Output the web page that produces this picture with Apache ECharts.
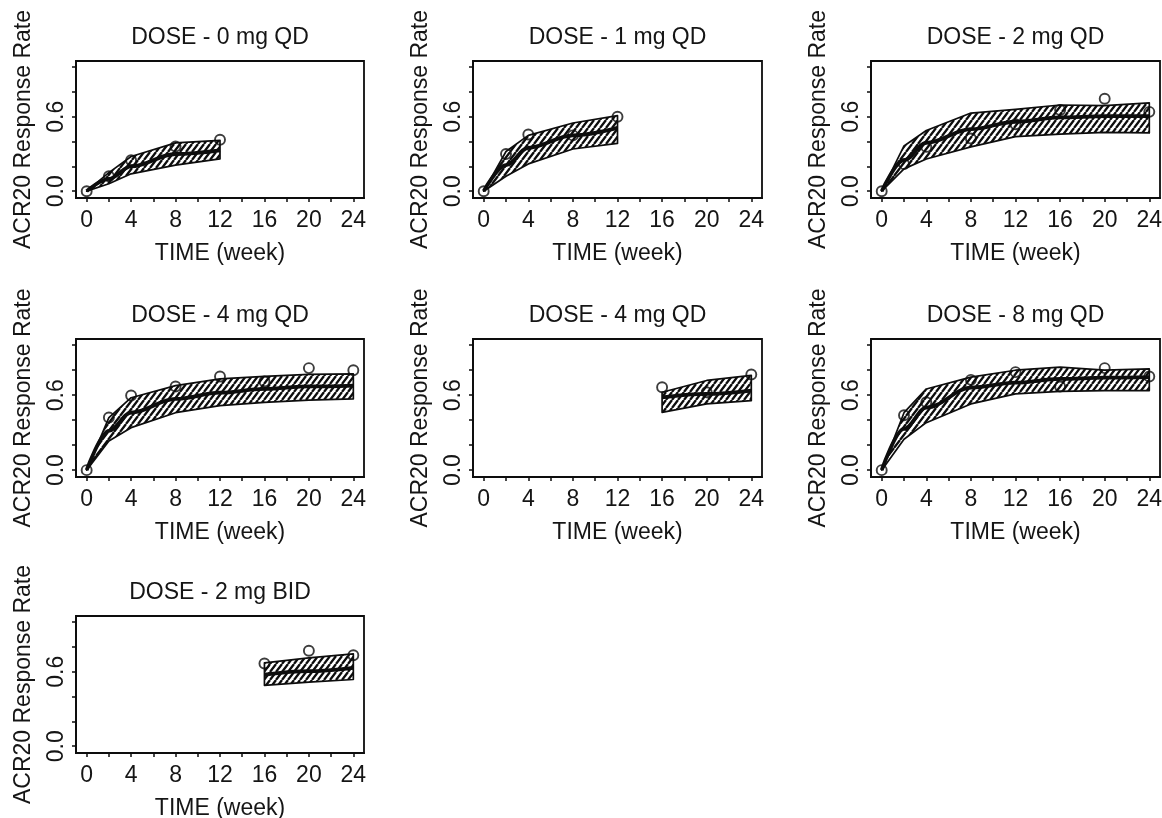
<!DOCTYPE html>
<html>
<head>
<meta charset="utf-8">
<script src="https://cdn.jsdelivr.net/npm/echarts@6/dist/echarts.min.js"></script>
<style>
  html, body { margin: 0; padding: 0; background: #fff; }
  #chart { width: 1162px; height: 818px; }
</style>
</head>
<body>
<div id="chart"></div>
<script>
// ---- data: one entry per dose panel ----
const panelTitles = [
  'DOSE - 0 mg QD', 'DOSE - 1 mg QD', 'DOSE - 2 mg QD',
  'DOSE - 4 mg QD', 'DOSE - 4 mg QD', 'DOSE - 8 mg QD',
  'DOSE - 2 mg BID'
];

// model-predicted weeks, median and 90% interval of ACR20 response rate
const predWeeks = [
  [0, 2, 4, 8, 12],
  [0, 2, 4, 8, 12],
  [0, 2, 4, 8, 12, 16, 20, 24],
  [0, 2, 4, 8, 12, 16, 20, 24],
  [16, 20, 24],
  [0, 2, 4, 8, 12, 16, 20, 24],
  [16, 20, 24]
];
const predMedian = [
  [0, 0.10, 0.20, 0.30, 0.33],
  [0, 0.21, 0.35, 0.45, 0.51],
  [0, 0.25, 0.39, 0.50, 0.56, 0.595, 0.605, 0.605],
  [0, 0.315, 0.46, 0.57, 0.62, 0.65, 0.67, 0.677],
  [0.583, 0.61, 0.637],
  [0, 0.33, 0.50, 0.66, 0.70, 0.73, 0.74, 0.745],
  [0.578, 0.605, 0.632]
];
const predLower = [
  [0, 0.06, 0.14, 0.21, 0.26],
  [0, 0.12, 0.22, 0.34, 0.385],
  [0, 0.18, 0.26, 0.357, 0.44, 0.46, 0.475, 0.47],
  [0, 0.234, 0.34, 0.46, 0.516, 0.543, 0.56, 0.57],
  [0.462, 0.53, 0.556],
  [0, 0.247, 0.38, 0.53, 0.61, 0.63, 0.637, 0.637],
  [0.49, 0.516, 0.538]
];
const predUpper = [
  [0, 0.15, 0.28, 0.39, 0.41],
  [0, 0.32, 0.45, 0.55, 0.61],
  [0, 0.365, 0.49, 0.63, 0.66, 0.695, 0.69, 0.712],
  [0, 0.42, 0.58, 0.677, 0.73, 0.75, 0.766, 0.77],
  [0.624, 0.718, 0.758],
  [0, 0.46, 0.65, 0.745, 0.80, 0.825, 0.80, 0.81],
  [0.672, 0.712, 0.745]
];

// observed response rates
const obsWeeks = [
  [0, 2, 4, 8, 12],
  [0, 2, 4, 8, 12],
  [0, 2, 4, 8, 12, 16, 20, 24],
  [0, 2, 4, 8, 12, 16, 20, 24],
  [16, 20, 24],
  [0, 2, 4, 8, 12, 16, 20, 24],
  [16, 20, 24]
];
const obsRate = [
  [0, 0.12, 0.25, 0.36, 0.415],
  [0, 0.30, 0.457, 0.45, 0.60],
  [0, 0.218, 0.357, 0.425, 0.54, 0.655, 0.745, 0.64],
  [0, 0.422, 0.597, 0.67, 0.75, 0.71, 0.817, 0.80],
  [0.664, 0.624, 0.766],
  [0, 0.44, 0.543, 0.723, 0.785, 0.67, 0.817, 0.75],
  [0.667, 0.77, 0.734]
];

// axis ticks and labels
const weekTicks = [0, 2, 4, 6, 8, 10, 12, 14, 16, 18, 20, 22, 24];
const weekLabels = [0, 4, 8, 12, 16, 20, 24];
const rateTicks = [0, 0.2, 0.4, 0.6, 0.8, 1.0];
const rateLabels = [0, 0.6];

// ---- layout ----
const colLeft = [76, 473, 871];
const colWidth = [288, 289, 289];
const rowTop = [61, 339, 616];
const rowHeight = [137, 138, 137];

const FONT = '"Liberation Sans", Arial, Helvetica, sans-serif';
const INK = '#0d0d0d';
const TEXT = '#151515';
const FS = 23;

// diagonal hatch used for the prediction interval
function makeHatch() {
  const w = 6, h = 8;
  const c = document.createElement('canvas');
  c.width = w; c.height = h;
  const ctx = c.getContext('2d');
  ctx.strokeStyle = INK;
  ctx.lineWidth = 2.3;
  ctx.beginPath();
  for (const dx of [-w, 0, w]) {
    ctx.moveTo(dx, h);
    ctx.lineTo(dx + w, 0);
  }
  ctx.stroke();
  return c;
}
const hatch = { image: makeHatch(), repeat: 'repeat' };

const grids = [], xAxes = [], yAxes = [], series = [], graphics = [];

panelTitles.forEach((title, i) => {
  const row = Math.floor(i / 3), col = i % 3;
  const left = colLeft[col], top = rowTop[row];
  const width = colWidth[col], height = rowHeight[row];

  grids.push({
    left, top, width, height,
    show: true, borderColor: INK, borderWidth: 1.8,
    backgroundColor: 'transparent',
    containLabel: false, outerBoundsMode: 'none'
  });

  xAxes.push({
    gridIndex: i, type: 'value', min: -0.96, max: 24.96,
    position: 'bottom',
    axisLine: { show: true, onZero: false, lineStyle: { color: INK, width: 1.8 } },
    axisTick: { show: true, customValues: weekTicks, length: 4, lineStyle: { color: INK, width: 1.5 } },
    axisLabel: {
      customValues: weekLabels, fontSize: FS, fontFamily: FONT, color: TEXT, margin: 11,
      formatter: v => String(v)
    },
    splitLine: { show: false },
    name: 'TIME (week)', nameLocation: 'middle', nameGap: 44,
    nameTextStyle: { fontSize: FS, fontFamily: FONT, color: TEXT }
  });

  yAxes.push({
    gridIndex: i, type: 'value', min: -0.055, max: 1.05,
    axisLine: { show: true, onZero: false, lineStyle: { color: INK, width: 1.8 } },
    axisTick: { show: true, customValues: rateTicks, length: 4, lineStyle: { color: INK, width: 1.5 } },
    axisLabel: {
      customValues: rateLabels, rotate: 90, fontSize: FS, fontFamily: FONT, color: TEXT, margin: 8,
      formatter: v => v.toFixed(1)
    },
    splitLine: { show: false },
    name: 'ACR20 Response Rate', nameLocation: 'middle', nameGap: 41, nameRotate: 90,
    nameTextStyle: { fontSize: FS, fontFamily: FONT, color: TEXT }
  });

  graphics.push({
    type: 'text', x: left + width / 2, y: top - 35,
    style: { text: title, align: 'center', verticalAlign: 'top', font: FS + 'px ' + FONT, fill: TEXT }
  });

  const weeks = predWeeks[i], lower = predLower[i], upper = predUpper[i];

  // hatched prediction interval polygon
  series.push({
    type: 'custom', xAxisIndex: i, yAxisIndex: i, silent: true, clip: false,
    data: weeks.map((w, k) => [w, lower[k], upper[k]]),
    encode: { x: 0, y: [1, 2] },
    renderItem: (params, api) => {
      if (params.dataIndex !== 0) return null;
      const top = weeks.map((w, k) => api.coord([w, upper[k]]));
      const bottom = weeks.map((w, k) => api.coord([w, lower[k]])).reverse();
      return {
        type: 'polygon',
        shape: { points: top.concat(bottom) },
        style: { fill: hatch, stroke: INK, lineWidth: 1.7, lineJoin: 'round' }
      };
    },
    z: 2
  });

  // median prediction
  series.push({
    type: 'line', xAxisIndex: i, yAxisIndex: i, silent: true,
    data: weeks.map((w, k) => [w, predMedian[i][k]]),
    smooth: 0.35, smoothMonotone: 'x', showSymbol: false, symbol: 'none',
    lineStyle: { color: INK, width: 3.8 },
    z: 3
  });

  // observed rates
  series.push({
    type: 'scatter', xAxisIndex: i, yAxisIndex: i, silent: true, clip: false,
    data: obsWeeks[i].map((w, k) => [w, obsRate[i][k]]),
    symbol: 'circle', symbolSize: 10,
    itemStyle: { color: 'rgba(0,0,0,0)', borderColor: INK, borderWidth: 1.9 },
    z: 4
  });
});

const chart = echarts.init(document.getElementById('chart'), null, { renderer: 'canvas' });
chart.setOption({
  animation: false,
  backgroundColor: '#fff',
  textStyle: { fontFamily: FONT },
  grid: grids,
  xAxis: xAxes,
  yAxis: yAxes,
  series: series,
  graphic: graphics
});
</script>
</body>
</html>
